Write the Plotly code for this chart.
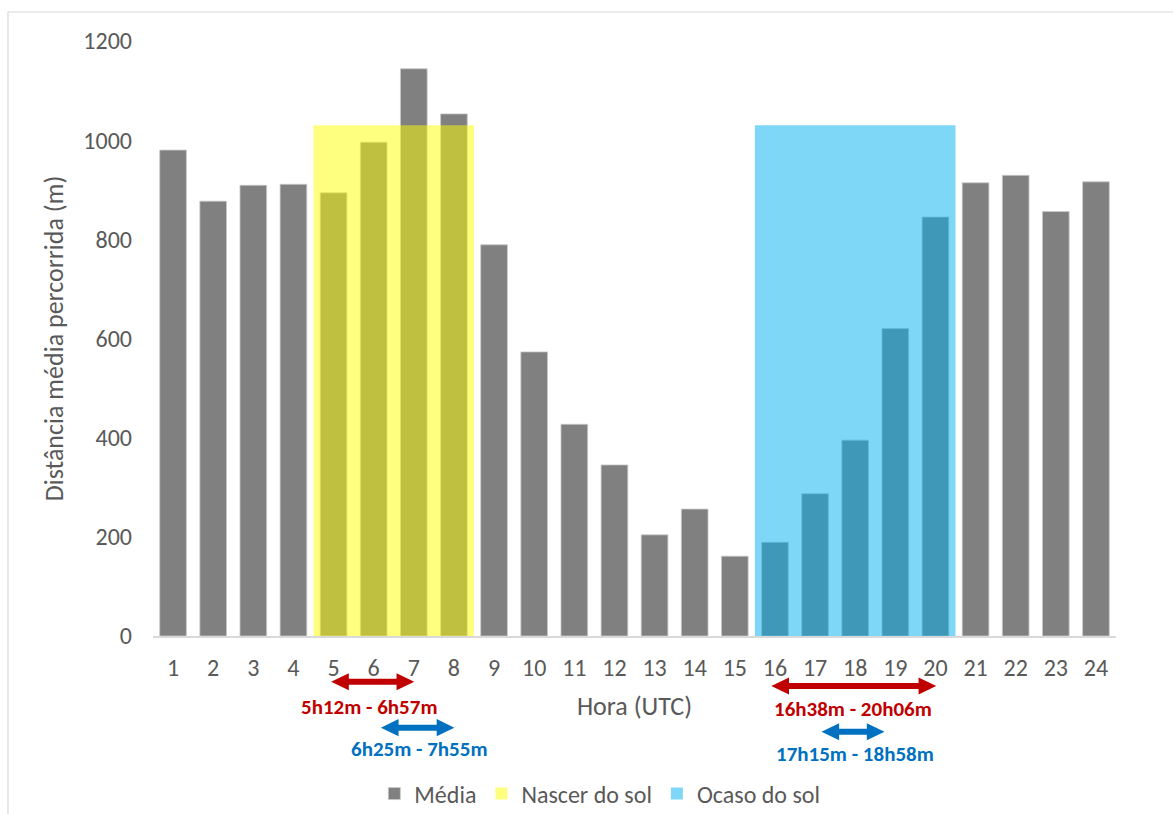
import plotly.graph_objects as go

# Hourly mean distance travelled (m), hours 1..24 (UTC)
hours = list(range(1, 25))
media = [980, 877, 909, 911, 894, 996, 1144, 1053, 789, 573, 427, 345,
         204, 256, 161, 189, 287, 395, 620, 845, 914, 929, 856, 916]

# Hours covered by the sunrise / sunset periods and the height of the bands
sunrise_hours = [5, 6, 7, 8]
sunset_hours = [16, 17, 18, 19, 20]
band_height = 1030

# Arrow annotations below the axis: (start, end) in hour units, label, colour, y (paper)
arrows = [
    (4.94, 7.01, "5h12m - 6h57m", "#C00000", -0.077, 5.89, -0.119),
    (6.18, 8.01, "6h25m - 7h55m", "#0070C0", -0.154, 7.14, -0.190),
    (15.91, 20.02, "16h38m - 20h06m", "#C00000", -0.084, 17.95, -0.123),
    (17.16, 18.73, "17h15m - 18h58m", "#0070C0", -0.161, 18.00, -0.198),
]

FONT = "Carlito, Calibri, Lato, sans-serif"
TXT = "#595959"

fig = go.Figure()
fig.add_trace(go.Bar(
    x=hours, y=media, name="Média", width=0.665,
    marker=dict(color="#808080", line=dict(color="#C8C8C8", width=0.8)),
))
fig.add_trace(go.Bar(
    x=[sum(sunrise_hours) / len(sunrise_hours)], y=[band_height],
    width=[len(sunrise_hours)], name="Nascer do sol",
    marker=dict(color="rgba(255,255,0,0.5)", line=dict(width=0)),
))
fig.add_trace(go.Bar(
    x=[sum(sunset_hours) / len(sunset_hours)], y=[band_height],
    width=[len(sunset_hours)], name="Ocaso do sol",
    marker=dict(color="rgba(0,176,240,0.5)", line=dict(width=0)),
))

shapes = [
    # outer chart frame (top and left edges; the rest runs past the page)
    dict(type="path", xref="paper", yref="paper",
         path="M -0.1506,-0.5 L -0.1506,1.0487 L 1.3,1.0487",
         line=dict(color="#D9D9D9", width=1.2), layer="below"),
]
annotations = []
hl = 0.44      # arrow head length (hour units)
hh = 0.0143    # arrow head half-height (paper units)
for x0, x1, label, col, y, lx, ly in arrows:
    shapes.append(dict(type="line", xref="x", yref="paper",
                       x0=x0 + hl * 0.8, x1=x1 - hl * 0.8, y0=y, y1=y,
                       line=dict(color=col, width=6)))
    shapes.append(dict(type="path", xref="x", yref="paper",
                       path=f"M {x0},{y} L {x0 + hl},{y + hh} L {x0 + hl},{y - hh} Z",
                       fillcolor=col, line=dict(width=0)))
    shapes.append(dict(type="path", xref="x", yref="paper",
                       path=f"M {x1},{y} L {x1 - hl},{y + hh} L {x1 - hl},{y - hh} Z",
                       fillcolor=col, line=dict(width=0)))
    annotations.append(dict(x=lx, y=ly, xref="x", yref="paper", text=f"<b>{label}</b>",
                            showarrow=False, font=dict(family=FONT, size=21, color=col),
                            xanchor="center", yanchor="middle"))

fig.update_layout(
    width=1173, height=814,
    margin=dict(l=153, r=57, t=41, b=178, autoexpand=False),
    paper_bgcolor="white", plot_bgcolor="white",
    barmode="overlay",
    font=dict(family=FONT, size=24, color=TXT),
    showlegend=True,
    legend=dict(orientation="h", x=0.464, xanchor="center", y=-0.2655,
                yanchor="middle", font=dict(family=FONT, size=24, color=TXT),
                traceorder="normal", itemwidth=30),
    shapes=shapes,
    annotations=annotations,
)
fig.update_xaxes(
    range=[0.5, 24.5], tickmode="array", tickvals=hours,
    ticktext=[str(h) for h in hours],
    showgrid=False, zeroline=False, showline=True, linecolor="#D9D9D9", linewidth=1.5,
    ticks="", ticklabelstandoff=9,
    title=dict(text="Hora (UTC)", font=dict(family=FONT, size=26, color=TXT), standoff=16),
    tickfont=dict(family=FONT, size=24, color=TXT),
)
fig.update_yaxes(
    range=[0, 1200], tickvals=[0, 200, 400, 600, 800, 1000, 1200],
    showgrid=False, zeroline=False, showline=False, ticks="", ticklabelstandoff=20,
    title=dict(text="Distância média percorrida (m)",
               font=dict(family=FONT, size=26, color=TXT), standoff=12),
    tickfont=dict(family=FONT, size=24, color=TXT),
)

fig.write_html("out.html")
